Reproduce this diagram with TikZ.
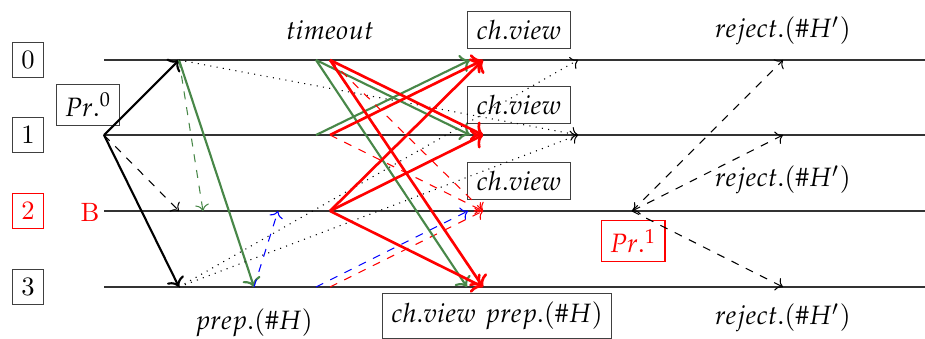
\documentclass[tikz,border=0pt]{standalone}
\usepackage{mathpazo}
\usepackage{tikz}
\usetikzlibrary{arrows.meta}

\definecolor{vgreen}{RGB}{72,135,72}

\begin{document}
\begin{tikzpicture}[
  x=0.377pt, y=-0.377pt,
  lane/.style={black!80, line width=0.5pt},
  rowid/.style={draw=black!75, inner sep=3.3pt},
  vbox/.style={draw=black!75, inner sep=3.3pt},
  lbl/.style={inner sep=1pt},
  prop/.style={->, line width=0.8pt},
  pdash/.style={->, dashed},
  grn/.style={->, vgreen, line width=0.8pt},
  grnd/.style={->, vgreen, dashed},
  rd/.style={->, red, line width=1.0pt},
  rdd/.style={->, red, dashed},
  bld/.style={->, blue, dashed},
  dot/.style={->, dotted},
]
\useasboundingbox (0,0) rectangle (925,338);
% ---------------- replicas ----------------
\foreach \i/\y in {0/60,1/135,2/211,3/287}{
  \coordinate (l\i) at (104,\y);
  \coordinate (e\i) at (925,\y);
  \draw[lane] (l\i) -- (e\i);
}
\node[rowid] (id0) at (28,60) {0};
\node[rowid] (id1) at (28,135) {1};
\node[rowid, draw=red, text=red] (id2) at (28,211) {2};
\node[rowid] (id3) at (28,287) {3};
\node[vbox] (pr0) at (88,105) {$Pr.^0$};
\node[red] (byz) at (90,212) {B};
% ---------------- labels ----------------
\node[lbl] (tmo) at (330,30) {$timeout$};
\node[vbox] (cv0) at (519,30) {$ch.view$};
\node[vbox] (cv1) at (519,105) {$ch.view$};
\node[vbox] (cv2) at (519,181) {$ch.view$};
\node[vbox] (cvp) at (497,316) {$ch.view$ $prep.(\#H)$};
\node[lbl] (prp) at (254,323) {$prep.(\#H)$};
\node[lbl] (rj0) at (783,31) {$reject.(\#H')$};
\node[lbl] (rj1) at (783,180) {$reject.(\#H')$};
\node[lbl] (rj3) at (783,318) {$reject.(\#H')$};
\node[vbox, draw=red, text=red] (pr1) at (633,241) {$Pr.^1$};
% ---------------- events ----------------
\coordinate (s1) at (104,135);
\coordinate (a0) at (179,60);  \coordinate (a2) at (179,211); \coordinate (a3) at (179,287);
\coordinate (g2) at (203,211); \coordinate (g3) at (254,287); \coordinate (b2) at (278,211);
\coordinate (t0g) at (316,60); \coordinate (t1g) at (316,135); \coordinate (t3b) at (316,287);
\coordinate (t0r) at (330,60); \coordinate (t1r) at (330,135);
\coordinate (t2r) at (330,211); \coordinate (t3r) at (330,287);
\coordinate (v0g) at (470,60); \coordinate (v1g) at (470,135);
\coordinate (v2b) at (468,211); \coordinate (v3g) at (467,287);
\coordinate (v0r) at (483,60); \coordinate (v1r) at (483,135);
\coordinate (v2r) at (483,211); \coordinate (v3r) at (483,287);
\coordinate (d0) at (578,60);  \coordinate (d1) at (578,135);
\coordinate (q2) at (632,211);
\coordinate (r0) at (783,60);  \coordinate (r1) at (783,135); \coordinate (r3) at (783,287);
% ---------------- proposal 0 ----------------
\draw[prop] (s1) -- (a0);
\draw[prop] (s1) -- (a3);
\draw[pdash] (s1) -- (a2);
\draw[grnd] (a0) -- (g2);
\draw[grn] (a0) -- (g3);
\draw[dot] (a0) -- (d1);
\draw[dot] (a3) -- (d0);
\draw[dot] (a3) -- (d1);
\draw[bld] (g3) -- (b2);
% ---------------- view change ----------------
\draw[bld] (t3b) -- (v2b);
\draw[rdd] (t3r) -- (v2r);
\draw[grn] (t0g) -- (v1g);
\draw[grn] (t0g) -- (v3g);
\draw[grn] (t1g) -- (v0g);
\draw[rd] (t0r) -- (v1r);
\draw[rd] (t0r) -- (v3r);
\draw[rdd] (t0r) -- (v2r);
\draw[rd] (t1r) -- (v0r);
\draw[rdd] (t1r) -- (v2r);
\draw[rd] (t2r) -- (v0r);
\draw[rd] (t2r) -- (v1r);
\draw[rd] (t2r) -- (v3r);
% ---------------- proposal 1 ----------------
\draw[pdash] (q2) -- (r0);
\draw[pdash, <->] (q2) -- (r1);
\draw[pdash] (q2) -- (r3);
\end{tikzpicture}
\end{document}
